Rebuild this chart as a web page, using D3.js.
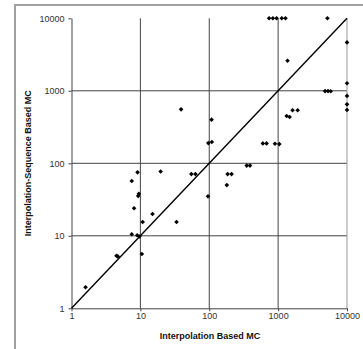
<!DOCTYPE html>
<html>
<head>
<meta charset="utf-8">
<script src="https://cdn.jsdelivr.net/npm/d3@7"></script>
<style>
  body { margin: 0; background: #fff; }
  text { font-family: Arial, "Liberation Sans", sans-serif; }
</style>
</head>
<body>
<div id="chart"></div>
<script>
var width = 363;
var height = 349;

// values
var ticks = [1, 10, 100, 1000, 10000];
var xVals = [1.6, 4.5, 4.7, 10.5, 7.5, 9.0, 9.7, 10.8, 33.5, 15, 8.1, 9.5, 9.3, 96,
  7.5, 9.1, 19.7, 55, 63, 185, 211, 180, 350, 390, 97, 109, 108, 39,
  600, 680, 900, 1040, 1330, 1470, 1620, 1920, 1370, 4800, 5300, 5800,
  10000, 10000, 10000, 10000, 10000, 740, 840, 950, 1130, 1280, 5200];
var yVals = [1.95, 5.3, 5.2, 5.6, 10.5, 10.2, 9.8, 15.5, 15.5, 20, 24, 38, 35.5, 35,
  57, 75, 77, 71, 71, 71, 71, 50, 93, 93, 190, 197, 400, 555,
  188, 188, 186, 184, 450, 435, 540, 540, 2600, 990, 990, 985,
  4650, 1270, 850, 650, 545, 10000, 10000, 10000, 10000, 10000, 10000];
var xTitle = "Interpolation Based MC";
var yTitle = "Interpolation-Sequence Based MC";

var plot_left = 71.5, plot_right = 347, plot_top = 18.3, plot_bottom = 308.3;

var svg = d3
  .select("#chart")
  .append("svg")
  .attr("width", width)
  .attr("height", height);

var x = d3.scaleLog().domain([1, 10000]).range([plot_left, plot_right]);
var y = d3.scaleLog().domain([1, 10000]).range([plot_bottom, plot_top]);

// outer frame (only top and left visible)
svg.append("line")
  .attr("x1", 15).attr("x2", width).attr("y1", 5).attr("y2", 5)
  .attr("stroke", "#a0a0a0").attr("stroke-width", 2);
svg.append("line")
  .attr("x1", 15).attr("x2", 15).attr("y1", 4).attr("y2", height)
  .attr("stroke", "#a0a0a0").attr("stroke-width", 2);

// gridlines
svg.append("g")
  .selectAll("line")
  .data(ticks.slice(1, 4))
  .enter()
  .append("line")
  .attr("x1", function (d) { return x(d); })
  .attr("x2", function (d) { return x(d); })
  .attr("y1", plot_top)
  .attr("y2", plot_bottom)
  .attr("stroke", "#444");

svg.append("g")
  .selectAll("line")
  .data(ticks.slice(1, 4))
  .enter()
  .append("line")
  .attr("y1", function (d) { return y(d); })
  .attr("y2", function (d) { return y(d); })
  .attr("x1", plot_left)
  .attr("x2", plot_right)
  .attr("stroke", "#444");

// right border of plot area
svg.append("line")
  .attr("x1", plot_right).attr("x2", plot_right)
  .attr("y1", plot_top).attr("y2", plot_bottom)
  .attr("stroke", "#999");

// axes
var xAxis = svg.append("g")
  .attr("transform", "translate(0," + plot_bottom + ")")
  .call(d3.axisBottom(x).tickValues(ticks).tickFormat(d3.format("d")).tickSize(3).tickSizeOuter(0).tickPadding(1));
var yAxis = svg.append("g")
  .attr("transform", "translate(" + plot_left + ",0)")
  .call(d3.axisLeft(y).tickValues(ticks).tickFormat(d3.format("d")).tickSize(3).tickSizeOuter(0).tickPadding(4));

[xAxis, yAxis].forEach(function (a) {
  a.select(".domain").attr("stroke", "#444");
  a.selectAll(".tick line").attr("stroke", "#444");
  a.selectAll("text")
    .attr("fill", "#333")
    .style("font-size", "9px")
    .style("font-family", "Arial, 'Liberation Sans', sans-serif");
});

// y = x reference line
svg.append("line")
  .attr("x1", x(1)).attr("y1", y(1))
  .attr("x2", x(10000)).attr("y2", y(10000))
  .attr("stroke", "#000")
  .attr("stroke-width", 1.4);

// points: small square diamonds
svg.append("g")
  .selectAll("path")
  .data(xVals)
  .enter()
  .append("path")
  .attr("d", "M0,-2.3L2.3,0L0,2.3L-2.3,0Z")
  .attr("transform", function (d, i) {
    return "translate(" + x(d) + "," + y(yVals[i]) + ")";
  })
  .attr("fill", "#000");

// axis titles
svg.append("text")
  .attr("x", 210)
  .attr("y", 339)
  .attr("text-anchor", "middle")
  .style("font-size", "9px")
  .style("font-weight", "bold")
  .attr("fill", "#111")
  .text(xTitle);

svg.append("text")
  .attr("transform", "translate(31," + (plot_top + plot_bottom) / 2 + ") rotate(-90)")
  .attr("text-anchor", "middle")
  .style("font-size", "9px")
  .style("font-weight", "bold")
  .attr("fill", "#111")
  .text(yTitle);
</script>
</body>
</html>
